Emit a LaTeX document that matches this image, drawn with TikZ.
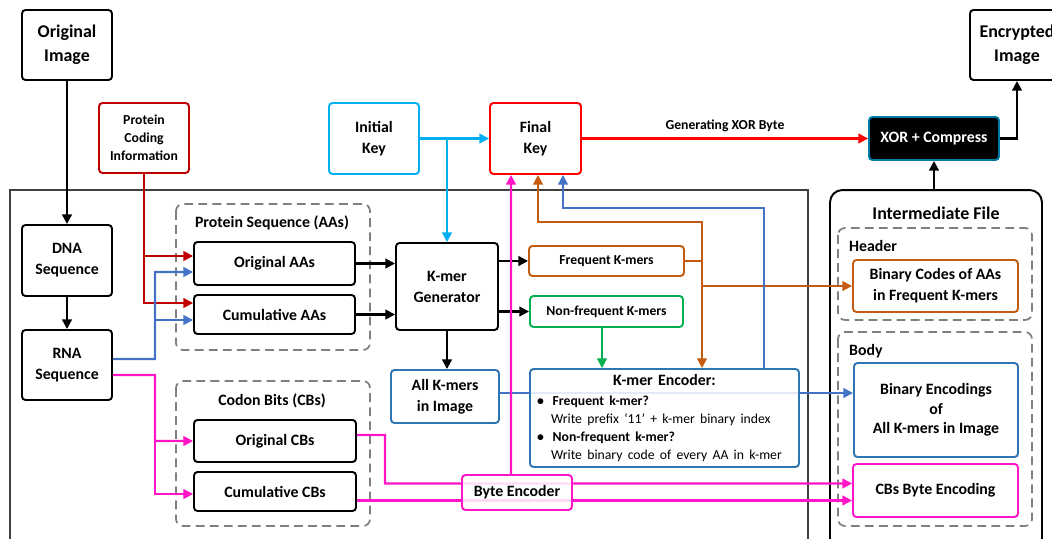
\documentclass[tikz,border=0pt]{standalone}
\usepackage{fontspec}
\setmainfont{Carlito}
\usetikzlibrary{arrows.meta}
\definecolor{dred}{RGB}{192,0,0}
\definecolor{fred}{RGB}{255,0,0}
\definecolor{cyn}{RGB}{0,176,240}
\definecolor{bline}{RGB}{68,114,196}
\definecolor{bbox}{RGB}{46,117,182}
\definecolor{org}{RGB}{197,90,17}
\definecolor{grn}{RGB}{0,176,80}
\definecolor{pnk}{RGB}{255,20,200}
\definecolor{gry}{RGB}{127,127,127}
\newcommand{\fbig}{\bfseries\fontsize{10.2}{13.6}\selectfont}
\newcommand{\fmid}{\bfseries\fontsize{9}{12}\selectfont}
\newcommand{\fsml}{\bfseries\fontsize{7.8}{10.3}\selectfont}
\tikzstyle{box}=[draw, line width=1.1pt, rounded corners=2pt, align=center, font=\fmid, inner sep=1pt]
\tikzstyle{bblack}=[box, draw=black]
\tikzstyle{bdred}=[box, draw=dred]
\tikzstyle{bfred}=[box, draw=fred]
\tikzstyle{bcyan}=[box, draw=cyn]
\tikzstyle{bblue}=[box, draw=bbox]
\tikzstyle{borg}=[box, draw=org]
\tikzstyle{bgrn}=[box, draw=grn]
\tikzstyle{bpnk}=[box, draw=pnk]
\tikzstyle{dbox}=[draw=gry, line width=1pt, rounded corners=4pt, dash pattern=on 5pt off 3pt]
\tikzstyle{conn}=[line width=1.2pt, -{Triangle[length=5.5pt,width=5.5pt]}]

\begin{document}
\begin{tikzpicture}[x=0.02cm, y=-0.02cm]
\useasboundingbox (0,0) rectangle (1052,538);
\clip (0,0) rectangle (1052,538);

\draw[draw=black!75, line width=1pt] (10,190) rectangle (808,560);
\node[bblack, rounded corners=7pt, minimum width=4.24cm, minimum height=7.4cm] (inter) at (936,375) {};
\node[font=\fbig] (interlab) at (936,213) {Intermediate File};
\draw[dbox] (838,228) rectangle (1032,320);
\draw[dbox] (838,332) rectangle (1032,526);
\draw[dbox] (176,204) rectangle (370,350);
\draw[dbox] (176,381) rectangle (370,526);
\node[font=\fmid] (psqlab) at (272,223) {Protein Sequence (AAs)};
\node[font=\fmid] (cbslab) at (272,401) {Codon Bits (CBs)};
\node[font=\fmid, anchor=west] (hdrlab) at (843,246) {Header};
\node[font=\fmid, anchor=west] (bodylab) at (843,351) {Body};

\node[bblack, font=\fbig, minimum width=1.8cm, minimum height=1.4cm] (img) at (67,45) {Original\\Image};
\node[bblack, font=\fbig, minimum width=1.88cm, minimum height=1.4cm] (enc) at (1017,45) {Encrypted\\Image};
\node[bdred, font=\fsml, minimum width=1.8cm, minimum height=1.4cm] (pci) at (144,138) {Protein\\Coding\\Information};
\node[bcyan, minimum width=1.8cm, minimum height=1.42cm] (ikey) at (374,138.5) {Initial\\Key};
\node[bfred, minimum width=1.82cm, minimum height=1.42cm] (fkey) at (535.5,138.5) {Final\\Key};
\node[box, draw=cyn!70!black, fill=black, text=white, minimum width=2.6cm, minimum height=0.86cm] (xor) at (934,138.5) {XOR + Compress};

\node[bblack, minimum width=1.8cm, minimum height=1.42cm] (dna) at (67,260.5) {DNA\\Sequence};
\node[bblack, minimum width=1.8cm, minimum height=1.4cm] (rna) at (67,365) {RNA\\Sequence};
\node[bblack, minimum width=3.22cm, minimum height=0.86cm] (oaa) at (274.5,263.5) {Original AAs};
\node[bblack, minimum width=3.22cm, minimum height=0.78cm] (caa) at (274.5,314.5) {Cumulative AAs};
\node[bblack, minimum width=3.24cm, minimum height=0.84cm] (ocb) at (275,441) {Original CBs};
\node[bblack, minimum width=3.24cm, minimum height=0.78cm] (ccb) at (275,491.5) {Cumulative CBs};
\node[bblack, minimum width=2.04cm, minimum height=1.74cm] (kgen) at (447,286.5) {K-mer\\Generator};
\node[borg, font=\fsml, minimum width=3.1cm, minimum height=0.6cm] (freq) at (606.5,261) {Frequent K-mers};
\node[bgrn, font=\fsml, minimum width=3.06cm, minimum height=0.62cm] (nfreq) at (606.5,311.5) {Non-frequent K-mers};
\node[bblue, minimum width=2.16cm, minimum height=1.06cm] (allk) at (445,396.5) {All K-mers\\in Image};
\node[borg, minimum width=3.3cm, minimum height=1.04cm] (bca) at (935.5,286) {Binary Codes of AAs\\in Frequent K-mers};
\node[bblue, minimum width=3.28cm, minimum height=1.88cm, font=\bfseries\fontsize{9}{11}\selectfont] (benc) at (936,410) {Binary Encodings\\of\\All K-mers in Image};
\node[bpnk, minimum width=3.3cm, minimum height=1.06cm] (cbe) at (935.5,490.5) {CBs Byte Encoding};

\coordinate (pj) at (385,435);
\draw[conn, draw=bline] ([yshift=0.07cm]allk.east) -- ([yshift=0.07cm]allk.east -| benc.west);
\draw[conn, draw=pnk] ([yshift=0.12cm]ocb.east) -- (pj) |- ([yshift=0.14cm]cbe.west);
\draw[conn, draw=pnk] ([yshift=-0.18cm]ccb.east) -- ([yshift=-0.18cm]ccb.east -| cbe.west);

\node[bblue, fill=white, fill opacity=0.85, text opacity=1, minimum width=5.34cm, minimum height=1.96cm, text width=5.1cm, inner xsep=4pt, align=left] (kenc) at (664.5,418) {{\centering\fmid K-mer Encoder:\par}\vspace{1pt}
{\fsml\textbullet\hspace{5pt}Frequent k-mer?\par
\hspace{8pt}\mdseries Write prefix ‘11’ + k-mer binary index\par
\bfseries\textbullet\hspace{5pt}Non-frequent k-mer?\par
\hspace{8pt}\mdseries Write binary code of every AA in k-mer\par}};
\node[bpnk, fill=white, fill opacity=0.85, text opacity=1, minimum width=2.2cm, minimum height=0.7cm] (byte) at (517,492.5) {Byte Encoder};

\draw[conn] (img) -- (dna);
\draw[conn] (dna) -- (rna);
\draw[conn, draw=dred] (pci.south) |- ([yshift=0.15cm]oaa.west);
\draw[conn, draw=dred] (pci.south) |- ([yshift=0.23cm]caa.west);
\coordinate (bj) at (155,359);
\draw[conn, draw=bline] ([yshift=0.12cm]rna.east) -- (bj) |- ([yshift=-0.17cm]oaa.west);
\draw[conn, draw=bline] (bj) |- ([yshift=-0.11cm]caa.west);
\coordinate (rj) at (155,375);
\draw[conn, draw=pnk] ([yshift=-0.2cm]rna.east) -- (rj) |- (ocb.west);
\draw[conn, draw=pnk] (rj) |- ([yshift=-0.05cm]ccb.west);
\draw[conn] (oaa.east) -- (oaa.east -| kgen.west);
\draw[conn] (caa.east) -- (caa.east -| kgen.west);
\draw[conn] (kgen.east |- freq.west) -- (freq.west);
\draw[conn] (kgen.east |- nfreq.west) -- (nfreq.west);
\draw[conn] (kgen.south) -- (kgen.south |- allk.north);
\draw[conn, draw=cyn] (ikey) -- (fkey);
\draw[conn, draw=cyn] (ikey.east -| kgen.north) -- (kgen.north);
\draw[conn, draw=fred] (fkey) -- (xor) node[midway, above, font=\fsml, text=black, inner sep=3pt] (xorlab) {Generating XOR Byte};
\draw[conn] (xor.east) -| (enc.south);
\draw[conn] (inter.north -| xor.south) -- (xor.south);
\draw[conn, draw=grn] ([xshift=-0.09cm]nfreq.south) -- ([xshift=-0.09cm]nfreq.south |- kenc.north);
\coordinate (oj) at (702,261);
\coordinate (ot) at (702,222);
\draw[conn, draw=org] (freq.east) -- (oj) -- (ot) -| ([xshift=0.05cm]fkey.south);
\draw[conn, draw=org] (oj) -- (oj |- kenc.north);
\draw[conn, draw=org] (oj |- bca.west) -- (bca.west);
\coordinate (bt) at (764,208);
\draw[conn, draw=bline] (bt |- kenc.north) -- (bt) -| ([xshift=0.55cm]fkey.south);
\draw[conn, draw=pnk] ([xshift=-0.12cm]byte.north) -- ([xshift=-0.49cm]fkey.south);

\end{tikzpicture}
\end{document}
